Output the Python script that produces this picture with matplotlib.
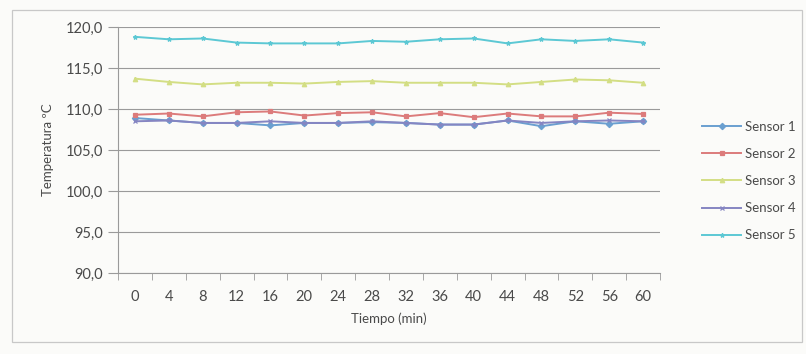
import matplotlib
matplotlib.use("Agg")
import matplotlib.pyplot as plt
from matplotlib.patches import Rectangle

# Measurements every 4 minutes
tiempo = [0, 4, 8, 12, 16, 20, 24, 28, 32, 36, 40, 44, 48, 52, 56, 60]
sensor_1 = [108.9, 108.6, 108.3, 108.3, 108.0, 108.3, 108.3, 108.4, 108.3, 108.1, 108.1, 108.6, 107.9, 108.5, 108.2, 108.5]
sensor_2 = [109.3, 109.45, 109.1, 109.6, 109.7, 109.2, 109.5, 109.6, 109.1, 109.5, 109.0, 109.45, 109.1, 109.1, 109.55, 109.4]
sensor_3 = [113.7, 113.3, 113.0, 113.2, 113.2, 113.1, 113.3, 113.4, 113.2, 113.2, 113.2, 113.0, 113.3, 113.6, 113.5, 113.2]
sensor_4 = [108.5, 108.6, 108.3, 108.3, 108.5, 108.3, 108.3, 108.5, 108.3, 108.1, 108.1, 108.6, 108.3, 108.5, 108.6, 108.5]
sensor_5 = [118.8, 118.5, 118.6, 118.1, 118.0, 118.0, 118.0, 118.3, 118.2, 118.5, 118.6, 118.0, 118.5, 118.3, 118.5, 118.1]

series = [
    ("Sensor 1", sensor_1, "#6a9fd0", "D"),
    ("Sensor 2", sensor_2, "#dc7b7b", "s"),
    ("Sensor 3", sensor_3, "#d3de84", "^"),
    ("Sensor 4", sensor_4, "#8585c2", "x"),
    ("Sensor 5", sensor_5, "#5cc8d4", "*"),
]

plt.rcParams["font.family"] = ["Lato", "DejaVu Sans"]
text_color = "#4a4a4a"

fig = plt.figure(figsize=(8.06, 3.54), dpi=100, facecolor="#fbfbf9")

# chart-area frame
fig.patches.append(Rectangle((12 / 806, 1 - 342 / 354), 790 / 806, 332 / 354,
                             transform=fig.transFigure, fill=False,
                             edgecolor="#c8c8c8", linewidth=0.9))

ax = fig.add_axes([118 / 806, 1 - 273 / 354, 542 / 806, 246 / 354])
ax.set_facecolor("none")

x = list(range(len(tiempo)))
handles = []
for name, vals, color, mk in series:
    (ln,) = ax.plot(x, vals, color=color, linewidth=1.4, marker=mk,
                    markersize=3.2, markeredgewidth=0.9, label=name)
    handles.append(ln)

ax.set_xlim(-0.5, len(tiempo) - 0.5)
ax.set_ylim(90, 120)
yt = [90, 95, 100, 105, 110, 115, 120]
ax.set_yticks(yt)
ax.set_yticklabels([f"{v:.1f}".replace(".", ",") for v in yt])
ax.set_xticks(x)
ax.set_xticklabels([str(t) for t in tiempo])
ax.set_xticks([i - 0.5 for i in range(len(tiempo) + 1)], minor=True)

ax.grid(axis="y", color="#9a9a9a", linewidth=0.8)
ax.set_axisbelow(True)
for s in ["top", "right"]:
    ax.spines[s].set_visible(False)
for s in ["left", "bottom"]:
    ax.spines[s].set_color("#9a9a9a")
    ax.spines[s].set_linewidth(0.8)

ax.tick_params(axis="y", length=7, color="#9a9a9a", labelsize=10.5,
               labelcolor=text_color, pad=4)
ax.tick_params(axis="x", which="major", length=0, labelsize=10.5,
               labelcolor=text_color, pad=12)
ax.tick_params(axis="x", which="minor", length=5, color="#9a9a9a")

ax.set_xlabel("Tiempo (min)", fontsize=9.5, color=text_color, labelpad=6)
ax.set_ylabel("Temperatura ºC", fontsize=9.5, color=text_color, labelpad=8)

fig.legend(handles=handles, loc="center left",
           bbox_to_anchor=(690 / 806, 1 - 181 / 354), frameon=False,
           fontsize=9.5, labelcolor=text_color, handlelength=3.0,
           handletextpad=0.3, labelspacing=1.15)

fig.savefig("out.png", dpi=100, facecolor=fig.get_facecolor())
